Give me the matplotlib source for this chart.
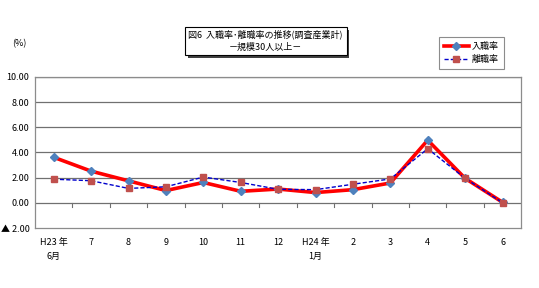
import numpy as np
import matplotlib.pyplot as plt
from matplotlib.patches import Rectangle
from matplotlib.lines import Line2D

plt.rcParams['font.family'] = ['Noto Sans CJK JP', 'DejaVu Sans']

months = ['H23 年\n6月', '7', '8', '9', '10', '11', '12', 'H24 年\n1月',
          '2', '3', '4', '5', '6']
nyushoku = [3.62, 2.52, 1.75, 0.98, 1.62, 0.92, 1.10, 0.82, 1.05, 1.58, 4.98, 1.95, 0.05]
rishoku = [1.88, 1.76, 1.15, 1.28, 2.05, 1.62, 1.08, 1.05, 1.48, 1.90, 4.30, 1.95, 0.02]
yticks = [-2, 0, 2, 4, 6, 8, 10]
ylabels = ['▲ 2.00', '0.00', '2.00', '4.00', '6.00', '8.00', '10.00']

fig = plt.figure(figsize=(5.39, 2.88), dpi=100)
ax = fig.add_axes([0.065, 0.208, 0.902, 0.525])

x = np.arange(len(months))
ax.set_xlim(-0.5, len(months) - 0.5)
ax.set_ylim(-2, 10)

for y in yticks[1:]:
    ax.axhline(y, color='#707070', lw=0.9, zorder=1)
# category ticks hanging below the 0 line
for b in np.arange(0.5, len(months) - 0.5, 1):
    ax.plot([b, b], [0, -0.35], color='#707070', lw=0.8, zorder=1)

ax.plot(x, nyushoku, color='#ff0000', lw=2.6, marker='D', ms=4.5,
        mfc='#4f81bd', mec='#4f81bd', zorder=3)
ax.plot(x, rishoku, color='#0000cc', lw=1.0, ls=(0, (3, 1.5)), marker='s', ms=4.5,
        mfc='#c0504d', mec='#c0504d', zorder=4)

ax.set_yticks(yticks)
ax.set_yticklabels(ylabels, fontsize=6.5)
ax.set_xticks(x)
ax.set_xticklabels(months, fontsize=6.5, linespacing=1.7, va='top')
ax.tick_params(axis='x', length=0, pad=7)
ax.tick_params(axis='y', length=0, pad=4)
for s in ax.spines.values():
    s.set_color('#8c8c8c')
    s.set_linewidth(0.9)

fig.text(0.022, 0.84, '(%)', fontsize=6.5)

# title box with shadow
tb_x, tb_y, tb_w, tb_h = 0.343, 0.81, 0.3, 0.097
fig.patches.append(Rectangle((tb_x + 0.005, tb_y - 0.01), tb_w, tb_h, transform=fig.transFigure,
                             facecolor='#404040', edgecolor='none', zorder=1))
fig.patches.append(Rectangle((tb_x, tb_y), tb_w, tb_h, transform=fig.transFigure,
                             facecolor='white', edgecolor='black', lw=0.8, zorder=2))
fig.text(tb_x + tb_w / 2, tb_y + tb_h * 0.72, '図6  入職率･離職率の推移(調査産業計)',
         ha='center', va='center', fontsize=6.5, zorder=3)
fig.text(tb_x + tb_w / 2, tb_y + tb_h * 0.27, '－規模30人以上－',
         ha='center', va='center', fontsize=6.5, zorder=3)

handles = [Line2D([], [], color='#ff0000', lw=2.6, marker='D', ms=4, mfc='#4f81bd', mec='#4f81bd'),
           Line2D([], [], color='#0000cc', lw=1.0, ls=(0, (3, 1.5)), marker='s', ms=4,
                  mfc='#c0504d', mec='#c0504d')]
leg = fig.legend(handles, ['入職率', '離職率'], loc='upper left', bbox_to_anchor=(0.814, 0.872),
                 fontsize=6.5, frameon=True, fancybox=False, handlelength=2.8,
                 borderpad=0.55, labelspacing=0.5, handletextpad=0.3, borderaxespad=0)
leg.get_frame().set_edgecolor('#707070')
leg.get_frame().set_linewidth(0.8)

fig.savefig('out.png', dpi=100)
